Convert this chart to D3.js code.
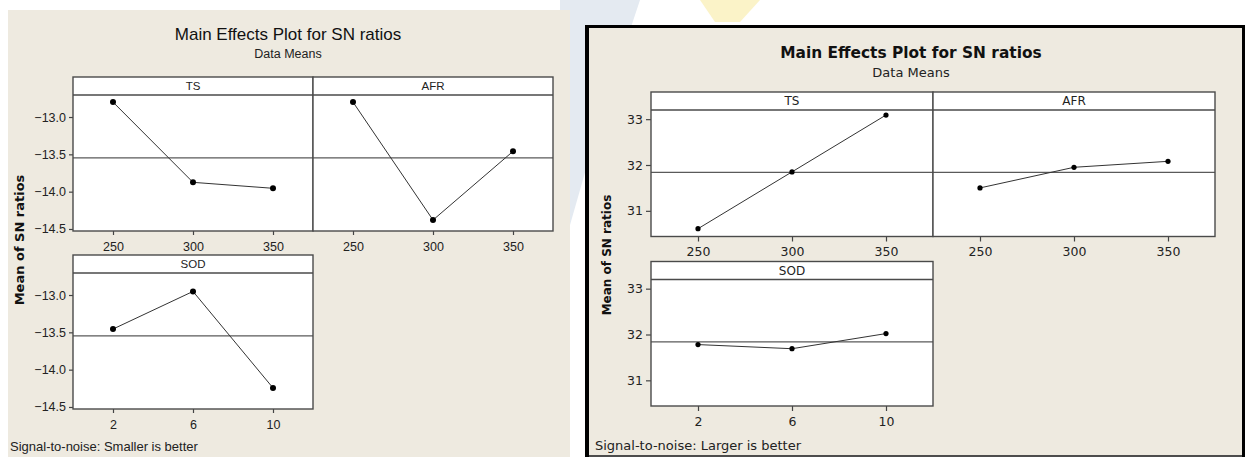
<!DOCTYPE html>
<html>
<head>
<meta charset="utf-8">
<script src="https://cdnjs.cloudflare.com/ajax/libs/d3/7.8.5/d3.min.js"></script>
<style>
  body { margin: 0; background: #fff; }
  svg { display: block; }
</style>
</head>
<body>
<svg id="chart" width="1245" height="457"></svg>
<script>
// levels of each factor
const levelsTS = [250, 300, 350];
const levelsAFR = [250, 300, 350];
const levelsSOD = [2, 6, 10];

// mean of SN ratios, "smaller is better" run
const smallerTS = [-12.80, -13.875, -13.955];
const smallerAFR = [-12.80, -14.38, -13.46];
const smallerSOD = [-13.456, -12.952, -14.245];

// mean of SN ratios, "larger is better" run
const largerTS = [30.61, 31.85, 33.09];
const largerAFR = [31.50, 31.95, 32.08];
const largerSOD = [31.78, 31.69, 32.02];

const smallerYTicks = [-13.0, -13.5, -14.0, -14.5];
const largerYTicks = [31, 32, 33];
const tempTicks = [250, 300, 350];
const sodTicks = [2, 6, 10];

const svg = d3.select("#chart");
const beige = "#eeeae0";

// faint watermark behind the two plots
svg.append("path")
    .attr("d", "M560,0 L640,0 L600,120 L560,260 Z")
    .attr("fill", "#e4eaf1");
svg.append("path")
    .attr("d", "M700,0 L760,0 L740,22 L715,22 Z")
    .attr("fill", "#fbf3c8");

function drawPlot(cfg) {
    const g = svg.append("g").attr("font-family", cfg.font);

    g.append("rect")
        .attr("x", cfg.bg[0]).attr("y", cfg.bg[1])
        .attr("width", cfg.bg[2]).attr("height", cfg.bg[3])
        .attr("fill", beige);

    g.append("text")
        .attr("x", cfg.titleX).attr("y", cfg.titleY)
        .attr("text-anchor", "middle")
        .attr("font-size", cfg.titleSize)
        .attr("font-weight", cfg.titleWeight)
        .attr("fill", "#111")
        .text("Main Effects Plot for SN ratios");

    g.append("text")
        .attr("x", cfg.titleX).attr("y", cfg.subY)
        .attr("text-anchor", "middle")
        .attr("font-size", cfg.subSize)
        .attr("fill", "#222")
        .text("Data Means");

    g.append("text")
        .attr("transform", `translate(${cfg.ylabX},${cfg.ylabY}) rotate(-90)`)
        .attr("text-anchor", "middle")
        .attr("font-family", "DejaVu Sans")
        .attr("font-weight", "bold")
        .attr("font-size", cfg.ylabSize)
        .attr("fill", "#111")
        .text("Mean of SN ratios");

    g.append("text")
        .attr("x", cfg.footX).attr("y", cfg.footY)
        .attr("font-size", cfg.footSize)
        .attr("fill", "#222")
        .text(cfg.footer);

    const grand = d3.mean(cfg.panels.flatMap(p => p.values));

    cfg.panels.forEach(p => {
        const plotTop = p.top + cfg.headH;
        const x = d3.scaleLinear().domain(p.xDomain).range([p.x0, p.x1]);
        const y = d3.scaleLinear().domain(cfg.yDomain).range([p.bottom, plotTop]);

        // white plot area and header strip
        g.append("rect")
            .attr("x", p.x0).attr("y", p.top)
            .attr("width", p.x1 - p.x0).attr("height", p.bottom - p.top)
            .attr("fill", "#fff");

        g.append("text")
            .attr("x", (p.x0 + p.x1) / 2).attr("y", p.top + cfg.headH / 2)
            .attr("dy", "0.36em")
            .attr("text-anchor", "middle")
            .attr("font-size", cfg.headSize)
            .attr("fill", "#222")
            .text(p.name);

        // mean reference line
        g.append("line")
            .attr("x1", p.x0).attr("x2", p.x1)
            .attr("y1", y(grand)).attr("y2", y(grand))
            .attr("stroke", "#5a5a5a").attr("stroke-width", 1.2);

        // x axis
        const xa = g.append("g")
            .attr("transform", `translate(0,${p.bottom})`)
            .call(d3.axisBottom(x).tickValues(p.ticks).tickSize(cfg.tickLen).tickSizeOuter(0).tickPadding(cfg.xPad));
        xa.select(".domain").remove();

        if (p.yAxis) {
            const ya = g.append("g")
                .attr("transform", `translate(${p.x0},0)`)
                .call(d3.axisLeft(y).tickValues(cfg.yTicks).tickSize(cfg.tickLen).tickSizeOuter(0)
                    .tickPadding(3).tickFormat(cfg.yFormat));
            ya.select(".domain").remove();
        }

        g.selectAll(".tick line").attr("stroke", "#444").attr("stroke-width", 1.2);
        g.selectAll(".tick text").attr("font-size", cfg.tickSize)
            .attr("font-family", cfg.font).attr("fill", "#222");

        const pts = p.levels.map((l, i) => [l, p.values[i]]);
        g.append("path")
            .datum(pts)
            .attr("fill", "none")
            .attr("stroke", "#333")
            .attr("stroke-width", 1)
            .attr("d", d3.line().x(d => x(d[0])).y(d => y(d[1])));

        g.selectAll(null)
            .data(pts)
            .join("circle")
            .attr("cx", d => x(d[0]))
            .attr("cy", d => y(d[1]))
            .attr("r", cfg.dotR)
            .attr("fill", "#000");

        // frame and header divider
        g.append("rect")
            .attr("x", p.x0).attr("y", p.top)
            .attr("width", p.x1 - p.x0).attr("height", p.bottom - p.top)
            .attr("fill", "none").attr("stroke", "#4a4a4a").attr("stroke-width", 1.4);
        g.append("line")
            .attr("x1", p.x0).attr("x2", p.x1)
            .attr("y1", plotTop).attr("y2", plotTop)
            .attr("stroke", "#4a4a4a").attr("stroke-width", 1.4);
    });
    return g;
}

drawPlot({
    font: "Liberation Sans",
    bg: [8, 10, 562, 447],
    titleX: 288, titleY: 40, titleSize: 17, titleWeight: "normal",
    subY: 58, subSize: 12.5,
    ylabX: 24, ylabY: 240, ylabSize: 13,
    footX: 10, footY: 451, footSize: 13,
    footer: "Signal-to-noise: Smaller is better",
    headH: 18, headSize: 11.5, tickSize: 12.5, tickLen: 4, xPad: 7, dotR: 3,
    yDomain: [-14.527, -12.705], yTicks: smallerYTicks, yFormat: d3.format(".1f"),
    panels: [
        {name: "TS", x0: 73, x1: 313, top: 77, bottom: 231, xDomain: [225, 375], ticks: tempTicks, levels: levelsTS, values: smallerTS, yAxis: true},
        {name: "AFR", x0: 313, x1: 553, top: 77, bottom: 231, xDomain: [225, 375], ticks: tempTicks, levels: levelsAFR, values: smallerAFR, yAxis: false},
        {name: "SOD", x0: 73, x1: 313, top: 255, bottom: 409, xDomain: [0, 12], ticks: sodTicks, levels: levelsSOD, values: smallerSOD, yAxis: true}
    ]
});

// right plot sits in a heavy black frame
svg.append("rect")
    .attr("x", 585).attr("y", 25).attr("width", 660).attr("height", 432)
    .attr("fill", "#000");

drawPlot({
    font: "DejaVu Sans",
    bg: [589, 28, 653, 427],
    titleX: 911, titleY: 58, titleSize: 15.4, titleWeight: "bold",
    subY: 77, subSize: 13,
    ylabX: 611, ylabY: 255, ylabSize: 12,
    footX: 595, footY: 450, footSize: 13,
    footer: "Signal-to-noise: Larger is better",
    headH: 18, headSize: 12, tickSize: 12.5, tickLen: 5, xPad: 6, dotR: 2.6,
    yDomain: [30.44, 33.20], yTicks: largerYTicks, yFormat: d3.format("d"),
    panels: [
        {name: "TS", x0: 651, x1: 933, top: 92, bottom: 236.5, xDomain: [225, 375], ticks: tempTicks, levels: levelsTS, values: largerTS, yAxis: true},
        {name: "AFR", x0: 933, x1: 1215, top: 92, bottom: 236.5, xDomain: [225, 375], ticks: tempTicks, levels: levelsAFR, values: largerAFR, yAxis: false},
        {name: "SOD", x0: 651, x1: 933, top: 261.5, bottom: 406, xDomain: [0, 12], ticks: sodTicks, levels: levelsSOD, values: largerSOD, yAxis: true}
    ]
});

svg.append("line")
    .attr("x1", 589).attr("x2", 1242).attr("y1", 456).attr("y2", 456)
    .attr("stroke", "#999");
</script>
</body>
</html>
